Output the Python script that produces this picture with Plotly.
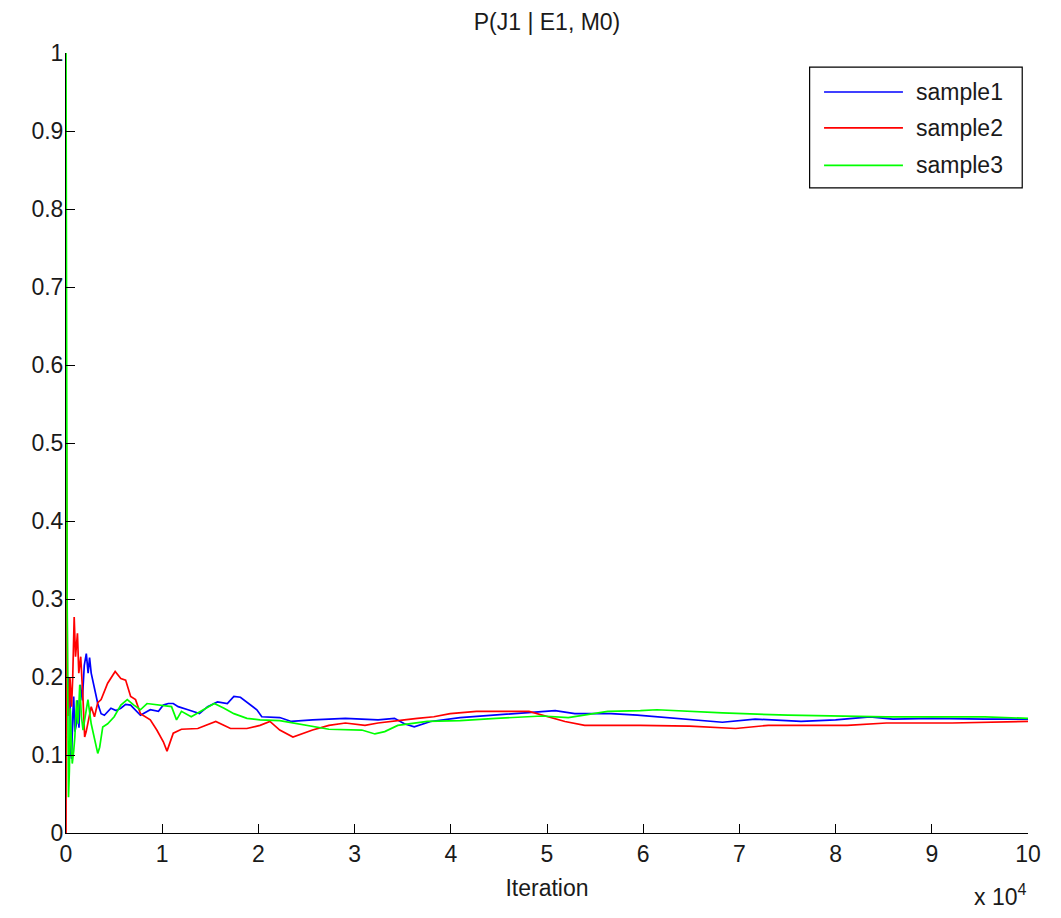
import plotly.graph_objects as go

# ---- data (iteration, probability) ----
series_names = ["sample1", "sample2", "sample3"]
series_colors = ["#0000FF", "#FF0000", "#00FF00"]

s1_x = [1, 150, 300, 410, 500, 580, 700, 800, 920, 1090, 1200, 1350, 1500, 1700,
        1900, 2110, 2300, 2450, 2620, 2960, 3300, 3650, 3990, 4670, 5200, 5700,
        6200, 6720, 7230, 7740, 8760, 9610, 10120, 10630, 11150, 11660, 12680,
        13870, 14720, 15750, 16770, 17450, 18130, 19150, 19840, 20350, 22220,
        23420, 25630, 29040, 32440, 34150, 35170, 36200, 37900, 40970, 44380,
        47780, 50850, 52890, 56650, 59380, 63120, 68230, 71640, 76410, 80000,
        83570, 85960, 90000, 95500, 100000]
s1_y = [0.200, 0.150, 0.200, 0.180, 0.100, 0.095, 0.150, 0.175, 0.130, 0.140,
        0.170, 0.135, 0.190, 0.170, 0.215, 0.230, 0.205, 0.225, 0.205, 0.183,
        0.166, 0.153, 0.151, 0.160, 0.157, 0.160, 0.165, 0.164, 0.157, 0.151,
        0.158, 0.156, 0.164, 0.166, 0.166, 0.162, 0.158, 0.153, 0.162, 0.168,
        0.166, 0.175, 0.174, 0.164, 0.158, 0.149, 0.148, 0.143, 0.145, 0.147,
        0.145, 0.147, 0.140, 0.136, 0.143, 0.148, 0.151, 0.154, 0.157, 0.153,
        0.153, 0.151, 0.147, 0.142, 0.146, 0.143, 0.145, 0.149, 0.146, 0.147,
        0.146, 0.146]

s2_x = [1, 50, 100, 150, 250, 410, 580, 700, 850, 990, 1190, 1330, 1530, 1770,
        1940, 2100, 2280, 2620, 2960, 3300, 3650, 4330, 5110, 5700, 6200, 6720,
        7230, 7740, 8760, 9440, 10120, 10500, 11150, 12000, 13700, 15570, 17100,
        18800, 20170, 21200, 22220, 23590, 25630, 27330, 29040, 31080, 32440,
        34150, 35170, 36530, 38240, 39940, 42670, 48130, 50170, 51870, 53920,
        59710, 64830, 69600, 73000, 81200, 85280, 92100, 100000]
s2_y = [0.000, 0.500, 0.330, 0.200, 0.150, 0.200, 0.162, 0.200, 0.277, 0.226,
        0.256, 0.205, 0.226, 0.171, 0.123, 0.130, 0.140, 0.162, 0.149, 0.167,
        0.171, 0.192, 0.207, 0.198, 0.196, 0.175, 0.171, 0.153, 0.145, 0.132,
        0.117, 0.105, 0.128, 0.133, 0.134, 0.143, 0.134, 0.134, 0.138, 0.143,
        0.132, 0.123, 0.132, 0.138, 0.141, 0.138, 0.141, 0.143, 0.145, 0.147,
        0.149, 0.153, 0.156, 0.156, 0.149, 0.143, 0.138, 0.138, 0.137, 0.134,
        0.138, 0.138, 0.141, 0.141, 0.143]

s3_x = [1, 40, 80, 120, 200, 260, 350, 450, 550, 650, 800, 920, 1100, 1250,
        1430, 1600, 1770, 2000, 2280, 2620, 3140, 3300, 3500, 3820, 4330, 5010,
        5700, 6370, 7060, 7740, 8420, 9610, 10970, 11490, 12000, 13020, 14040,
        15410, 16430, 17450, 18810, 20170, 22220, 24950, 27330, 30750, 32110,
        33130, 34490, 37560, 40970, 44710, 49490, 52210, 56310, 59710, 61420,
        68230, 75050, 85280, 95500, 100000]
s3_y = [1.000, 0.500, 0.440, 0.300, 0.150, 0.046, 0.080, 0.160, 0.120, 0.089,
        0.105, 0.123, 0.170, 0.140, 0.190, 0.150, 0.132, 0.150, 0.171, 0.140,
        0.111, 0.102, 0.110, 0.136, 0.140, 0.149, 0.164, 0.171, 0.164, 0.158,
        0.166, 0.164, 0.162, 0.145, 0.156, 0.149, 0.156, 0.166, 0.160, 0.153,
        0.147, 0.145, 0.144, 0.138, 0.133, 0.132, 0.127, 0.130, 0.138, 0.143,
        0.144, 0.147, 0.150, 0.148, 0.156, 0.157, 0.158, 0.154, 0.151, 0.149,
        0.149, 0.147]

x_tickvals = [0, 10000, 20000, 30000, 40000, 50000, 60000, 70000, 80000, 90000, 100000]
x_ticktext = ["0", "1", "2", "3", "4", "5", "6", "7", "8", "9", "10"]
y_tickvals = [0, 0.1, 0.2, 0.3, 0.4, 0.5, 0.6, 0.7, 0.8, 0.9, 1]
y_ticktext = ["0", "0.1", "0.2", "0.3", "0.4", "0.5", "0.6", "0.7", "0.8", "0.9", "1"]

FONT = "Liberation Sans, Arial, sans-serif"
TXT = "#1a1a1a"

# the page body keeps its 8px margin, so the figure is sized to fit inside the window
# (right margin leaves room for the "10" tick label so nothing spills past the div)
W, H = 1045, 902

fig = go.Figure()
for name, color, xs, ys in zip(series_names, series_colors,
                               [s1_x, s2_x, s3_x], [s1_y, s2_y, s3_y]):
    fig.add_trace(go.Scatter(x=xs, y=ys, mode="lines", name=name,
                             line=dict(color=color, width=1.7),
                             showlegend=False))

# MATLAB-style legend box drawn by hand (long sample lines)
leg_x0, leg_x1, leg_y0, leg_y1 = 0.773, 0.994, 0.827, 0.982
line_x0, line_x1, text_x = 0.788, 0.870, 0.881
row_y = [0.950, 0.904, 0.856]
shapes = [dict(type="rect", xref="paper", yref="paper",
               x0=leg_x0, x1=leg_x1, y0=leg_y0, y1=leg_y1,
               line=dict(color="black", width=1.2), fillcolor="white", layer="above")]
annotations = []
for name, color, ry in zip(series_names, series_colors, row_y):
    shapes.append(dict(type="line", xref="paper", yref="paper",
                       x0=line_x0, x1=line_x1, y0=ry, y1=ry,
                       line=dict(color=color, width=1.7), layer="above"))
    annotations.append(dict(xref="paper", yref="paper", x=text_x, y=ry,
                            text=name, showarrow=False, xanchor="left", yanchor="middle",
                            font=dict(family=FONT, size=23, color=TXT)))

# exponent label under the x axis
annotations.append(dict(xref="paper", yref="paper", x=1.0, y=-0.058,
                        text="x 10<sup>4</sup>", showarrow=False,
                        xanchor="right", yanchor="top",
                        font=dict(family=FONT, size=23, color=TXT)))

fig.update_layout(
    width=W, height=H,
    margin=dict(l=58, r=14, t=45, b=77),
    paper_bgcolor="white", plot_bgcolor="white",
    font=dict(family=FONT, size=23, color=TXT),
    title=dict(text="P(J1 | E1, M0)", x=0.5, xref="paper", xanchor="center",
               y=1 - 14 / H, yref="container", yanchor="middle",
               font=dict(family=FONT, size=23, color=TXT)),
    shapes=shapes,
    annotations=annotations,
    xaxis=dict(range=[0, 100000], tickvals=x_tickvals, ticktext=x_ticktext,
               ticks="inside", ticklen=9, tickcolor="black", tickwidth=1,
               ticklabeloverflow="allow",
               showline=True, linecolor="black", linewidth=1,
               showgrid=False, zeroline=False,
               title=dict(text="Iteration", standoff=14,
                          font=dict(family=FONT, size=23, color=TXT))),
    yaxis=dict(range=[0, 1], tickvals=y_tickvals, ticktext=y_ticktext,
               ticks="inside", ticklen=9, tickcolor="black", tickwidth=1,
               ticklabelstandoff=-3,
               showline=True, linecolor="black", linewidth=1,
               showgrid=False, zeroline=False),
)

fig.write_html("out.html")
